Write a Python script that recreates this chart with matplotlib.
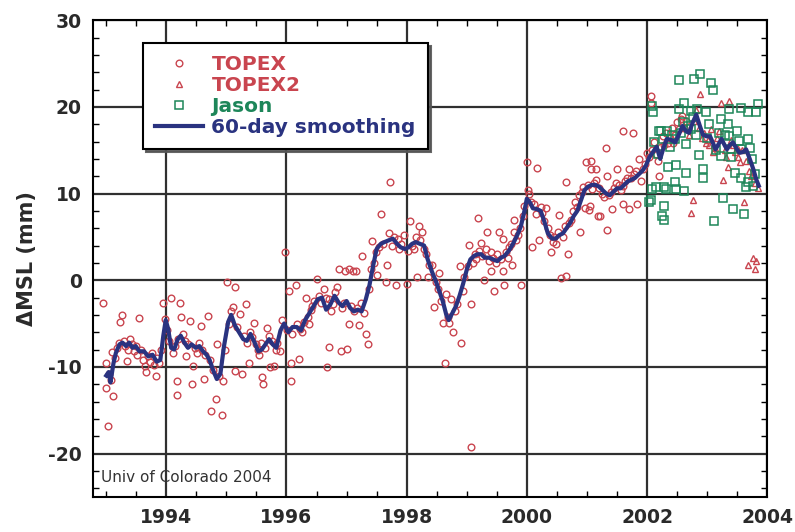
import matplotlib
matplotlib.use("Agg")
import matplotlib.pyplot as plt
from matplotlib.ticker import MultipleLocator

plt.rcParams['font.family'] = ['DejaVu Sans']
plt.rcParams['axes.unicode_minus'] = False

# TOPEX 10-day cycle values (year, mm)
topex_t = [1992.95, 1992.99, 1993.00, 1993.03, 1993.05, 1993.08, 1993.10, 1993.12, 1993.15, 1993.18,
           1993.21, 1993.23, 1993.27, 1993.29, 1993.32, 1993.34, 1993.37, 1993.40, 1993.43, 1993.46,
           1993.49, 1993.52, 1993.55, 1993.58, 1993.61, 1993.65, 1993.67, 1993.70, 1993.73, 1993.76,
           1993.79, 1993.82, 1993.85, 1993.88, 1993.91, 1993.95, 1993.98, 1994.01, 1994.04, 1994.08,
           1994.11, 1994.14, 1994.17, 1994.17, 1994.20, 1994.22, 1994.25, 1994.28, 1994.31, 1994.33,
           1994.36, 1994.40, 1994.42, 1994.45, 1994.48, 1994.51, 1994.54, 1994.57, 1994.60, 1994.62,
           1994.65, 1994.70, 1994.72, 1994.75, 1994.78, 1994.82, 1994.85, 1994.88, 1994.92, 1994.94,
           1994.97, 1995.01, 1995.04, 1995.08, 1995.11, 1995.15, 1995.15, 1995.18, 1995.23, 1995.26,
           1995.29, 1995.32, 1995.35, 1995.37, 1995.40, 1995.43, 1995.46, 1995.49, 1995.52, 1995.55,
           1995.57, 1995.59, 1995.61, 1995.65, 1995.68, 1995.71, 1995.73, 1995.76, 1995.79, 1995.82,
           1995.85, 1995.90, 1995.93, 1995.98, 1996.01, 1996.04, 1996.07, 1996.08, 1996.10, 1996.15,
           1996.17, 1996.20, 1996.23, 1996.26, 1996.29, 1996.32, 1996.35, 1996.37, 1996.40, 1996.43,
           1996.46, 1996.51, 1996.54, 1996.57, 1996.62, 1996.65, 1996.68, 1996.71, 1996.71, 1996.74,
           1996.78, 1996.81, 1996.84, 1996.87, 1996.90, 1996.93, 1996.96, 1996.98, 1997.01, 1997.04,
           1997.04, 1997.07, 1997.10, 1997.12, 1997.15, 1997.18, 1997.21, 1997.24, 1997.26, 1997.29,
           1997.32, 1997.35, 1997.38, 1997.40, 1997.43, 1997.46, 1997.49, 1997.51, 1997.54, 1997.58,
           1997.61, 1997.65, 1997.68, 1997.71, 1997.73, 1997.76, 1997.79, 1997.82, 1997.85, 1997.88,
           1997.91, 1997.96, 1998.01, 1998.03, 1998.06, 1998.09, 1998.12, 1998.15, 1998.18, 1998.20,
           1998.23, 1998.26, 1998.29, 1998.32, 1998.35, 1998.38, 1998.43, 1998.46, 1998.49, 1998.52,
           1998.54, 1998.57, 1998.60, 1998.63, 1998.65, 1998.68, 1998.71, 1998.74, 1998.77, 1998.80,
           1998.84, 1998.88, 1998.90, 1998.93, 1998.96, 1999.02, 1999.04, 1999.07, 1999.07, 1999.10,
           1999.13, 1999.16, 1999.18, 1999.21, 1999.23, 1999.26, 1999.29, 1999.32, 1999.34, 1999.37,
           1999.40, 1999.40, 1999.43, 1999.46, 1999.49, 1999.51, 1999.54, 1999.57, 1999.60, 1999.60,
           1999.62, 1999.65, 1999.68, 1999.71, 1999.74, 1999.76, 1999.79, 1999.79, 1999.82, 1999.85,
           1999.88, 1999.90, 1999.93, 1999.96, 2000.00, 2000.02, 2000.04, 2000.07, 2000.09, 2000.12,
           2000.15, 2000.17, 2000.20, 2000.23, 2000.26, 2000.29, 2000.32, 2000.35, 2000.38, 2000.40,
           2000.43, 2000.46, 2000.49, 2000.52, 2000.54, 2000.57, 2000.60, 2000.63, 2000.66, 2000.66,
           2000.68, 2000.71, 2000.74, 2000.77, 2000.80, 2000.83, 2000.86, 2000.88, 2000.91, 2000.94,
           2000.96, 2000.98, 2001.02, 2001.04, 2001.05, 2001.07, 2001.07, 2001.09, 2001.12, 2001.15,
           2001.15, 2001.18, 2001.20, 2001.22, 2001.25, 2001.28, 2001.32, 2001.34, 2001.34, 2001.37,
           2001.40, 2001.42, 2001.45, 2001.48, 2001.50, 2001.53, 2001.56, 2001.60, 2001.60, 2001.60,
           2001.63, 2001.66, 2001.70, 2001.70, 2001.73, 2001.76, 2001.79, 2001.82, 2001.84, 2001.87,
           2001.90, 2001.93, 2001.96, 2002.00, 2002.03, 2002.06, 2002.06, 2002.09, 2002.12, 2002.15,
           2002.18, 2002.20, 2002.23, 2002.26, 2002.29, 2002.32, 2002.35, 2002.38, 2002.41, 2002.44,
           2002.47, 2002.50, 2002.53, 2002.56, 2002.59, 2002.62, 2002.65]
topex_v = [-2.6, -9.6, -12.4, -16.8, -10.8, -11.5, -8.3, -13.4, -9.0, -7.8,
           -7.2, -4.8, -4.0, -7.0, -7.6, -9.3, -8.0, -6.8, -7.4, -8.2,
           -7.6, -8.6, -4.4, -8.0, -9.2, -9.9, -10.6, -8.8, -9.4, -8.4,
           -9.8, -11.1, -9.0, -9.6, -8.0, -2.6, -4.5, -5.8, -7.0, -2.0,
           -8.4, -7.6, -11.6, -13.2, -6.8, -2.6, -4.2, -6.2, -7.0, -8.8,
           -7.4, -4.7, -12.0, -9.9, -7.8, -8.4, -7.2, -5.3, -8.0, -11.4,
           -8.6, -4.1, -9.2, -15.1, -10.4, -13.7, -7.4, -11.0, -15.5, -11.6,
           -8.0, -0.2, -5.0, -3.6, -3.1, -0.8, -10.5, -5.4, -3.9, -10.8,
           -6.4, -2.8, -7.2, -9.5, -6.0, -6.6, -4.9, -7.4, -8.0, -8.6,
           -7.3, -11.2, -12.0, -7.8, -5.5, -6.4, -10.0, -7.0, -9.9, -8.0,
           -7.2, -8.2, -4.6, 3.2, -5.8, -1.2, -11.6, -9.5, -6.2, -0.6,
           -5.0, -9.1, -5.6, -6.0, -4.8, -2.0, -4.2, -5.0, -3.4, -3.0,
           -2.4, 0.1, -1.8, -2.6, -1.0, -2.0, -10.0, -2.2, -7.7, -3.6,
           -2.8, -1.4, -0.8, 1.3, -8.2, -3.2, -2.6, 1.1, -7.9, -5.0,
           1.3, -3.0, 1.1, -3.6, 1.1, -3.2, -5.2, -2.6, 2.8, -3.8,
           -6.2, -7.4, -1.0, 1.3, 4.5, 2.0, 3.2, 0.6, 3.8, 7.6,
           4.2, -0.2, 1.7, 5.4, 11.3, 4.0, 5.0, -0.6, 4.8, 3.6,
           4.2, 5.2, -0.4, 3.4, 6.8, 4.0, 3.6, 5.0, 0.4, 6.2,
           4.6, 5.6, 3.6, 3.0, 0.4, 1.8, 1.7, -3.1, -0.2, -1.0,
           0.8, -2.4, -4.9, -9.5, -1.6, -4.2, -4.9, -2.2, -6.0, -3.6,
           -2.8, 1.6, -7.2, -1.2, 0.4, 1.6, 4.1, -2.8, -19.2, 2.0,
           3.0, 2.4, 7.2, 3.4, 4.3, 2.8, 0.0, 3.6, 5.6, 2.2,
           3.2, 1.1, 2.6, -1.2, 2.0, 3.0, 5.6, 2.4, 4.7, 1.1,
           -0.6, 3.2, 2.6, 3.8, 4.2, 1.7, 7.0, 5.6, 4.6, 5.2,
           6.0, -0.6, 7.4, 8.6, 13.6, 10.4, 10.0, 9.0, 3.8, 8.8,
           7.6, 12.9, 4.6, 8.5, 7.8, 6.8, 8.3, 6.0, 5.2, 3.2,
           4.4, 5.0, 4.2, 5.6, 7.5, 0.3, 5.0, 6.2, 11.3, 0.5,
           3.0, 6.6, 7.0, 8.0, 9.0, 8.4, 9.8, 5.6, 10.2, 10.8,
           8.3, 13.6, 11.0, 8.1, 8.6, 12.8, 13.7, 10.5, 11.2, 11.6,
           12.8, 7.4, 10.6, 7.4, 10.0, 9.6, 15.3, 12.0, 5.8, 9.8,
           10.2, 8.2, 10.6, 11.2, 12.8, 11.0, 10.4, 17.2, 8.8, 10.9,
           11.4, 11.8, 12.8, 8.2, 11.8, 17.0, 12.2, 12.6, 8.8, 14.0,
           11.4, 12.8, 13.4, 14.7, 14.2, 20.5, 21.3, 15.0, 16.0, 14.6,
           13.8, 12.0, 15.4, 16.6, 15.6, 17.0, 15.8, 16.4, 17.6, 15.8,
           16.8, 18.2, 17.4, 18.6, 19.0, 17.6, 18.4]

# TOPEX2 (interleaved orbit)
topex2_t = [2002.70, 2002.73, 2002.76, 2002.79, 2002.82, 2002.86, 2002.89, 2002.92, 2002.95, 2002.98,
            2003.01, 2003.04, 2003.07, 2003.10, 2003.13, 2003.16, 2003.20, 2003.23, 2003.26, 2003.29,
            2003.32, 2003.34, 2003.37, 2003.40, 2003.43, 2003.46, 2003.49, 2003.52, 2003.55, 2003.58,
            2003.62, 2003.65, 2003.68, 2003.70, 2003.73, 2003.76, 2003.79, 2003.80, 2003.82, 2003.84]
topex2_v = [16.8, 7.8, 9.2, 18.4, 19.6, 17.6, 21.5, 16.4, 17.0, 15.8,
            16.2, 15.6, 17.4, 14.8, 15.2, 16.4, 17.2, 20.5, 11.6, 15.0,
            14.2, 13.1, 20.7, 16.2, 15.6, 14.8, 15.4, 14.2, 13.6, 15.0,
            9.0, 13.8, 1.8, 12.6, 12.0, 2.6, 1.3, 11.2, 2.2, 10.6]

# Jason-1
jason_t = [2002.03, 2002.07, 2002.08, 2002.09, 2002.10, 2002.12, 2002.15, 2002.18, 2002.20, 2002.24,
           2002.25, 2002.26, 2002.28, 2002.29, 2002.29, 2002.31, 2002.34, 2002.35, 2002.38, 2002.42,
           2002.46, 2002.46, 2002.48, 2002.49, 2002.53, 2002.54, 2002.57, 2002.60, 2002.62, 2002.62,
           2002.65, 2002.65, 2002.68, 2002.73, 2002.73, 2002.76, 2002.79, 2002.82, 2002.84, 2002.87,
           2002.89, 2002.93, 2002.93, 2002.98, 2003.00, 2003.04, 2003.07, 2003.10, 2003.12, 2003.15,
           2003.19, 2003.23, 2003.23, 2003.26, 2003.30, 2003.34, 2003.37, 2003.37, 2003.40, 2003.40,
           2003.43, 2003.46, 2003.50, 2003.53, 2003.57, 2003.57, 2003.57, 2003.62, 2003.65, 2003.68,
           2003.68, 2003.68, 2003.71, 2003.74, 2003.76, 2003.80, 2003.82, 2003.84]
jason_v = [9.0, 9.2, 10.5, 20.1, 19.4, 16.0, 10.7, 14.6, 17.2, 17.2,
           7.4, 16.3, 10.7, 8.6, 7.0, 10.5, 17.2, 13.1, 15.4, 16.8,
           16.3, 11.3, 10.5, 13.3, 23.1, 19.7, 17.0, 18.2, 20.5, 10.3,
           15.7, 12.4, 17.8, 19.5, 17.4, 18.8, 23.2, 16.8, 19.7, 14.5,
           23.8, 12.8, 11.8, 19.4, 16.4, 18.0, 22.8, 22.0, 6.8, 15.0,
           17.0, 18.6, 14.3, 9.5, 16.8, 18.0, 19.7, 16.6, 15.1, 14.2,
           8.2, 12.4, 17.2, 16.1, 19.9, 15.1, 11.8, 7.6, 10.7, 19.4,
           16.3, 11.3, 15.3, 14.0, 10.9, 12.2, 19.4, 20.3]

# 60-day smoothing
smooth_t = [1993.00, 1993.04, 1993.07, 1993.12, 1993.16, 1993.22, 1993.27, 1993.33, 1993.38, 1993.44,
            1993.49, 1993.55, 1993.63, 1993.70, 1993.77, 1993.84, 1993.90, 1993.95, 1993.99, 1994.03,
            1994.08, 1994.13, 1994.19, 1994.24, 1994.30, 1994.36, 1994.42, 1994.49, 1994.55, 1994.61,
            1994.67, 1994.72, 1994.78, 1994.84, 1994.90, 1994.96, 1995.03, 1995.08, 1995.14, 1995.21,
            1995.28, 1995.34, 1995.40, 1995.47, 1995.53, 1995.59, 1995.65, 1995.71, 1995.77, 1995.83,
            1995.90, 1995.96, 1996.03, 1996.10, 1996.17, 1996.24, 1996.31, 1996.38, 1996.45, 1996.52,
            1996.59, 1996.66, 1996.73, 1996.80, 1996.87, 1996.93, 1997.00, 1997.06, 1997.12, 1997.19,
            1997.25, 1997.32, 1997.38, 1997.44, 1997.50, 1997.57, 1997.63, 1997.70, 1997.77, 1997.84,
            1997.90, 1997.97, 1998.03, 1998.09, 1998.15, 1998.22, 1998.29, 1998.35, 1998.42, 1998.48,
            1998.54, 1998.60, 1998.66, 1998.70, 1998.76, 1998.82, 1998.88, 1998.94, 1999.00, 1999.06,
            1999.12, 1999.18, 1999.24, 1999.30, 1999.37, 1999.44, 1999.51, 1999.57, 1999.63, 1999.70,
            1999.77, 1999.84, 1999.90, 1999.96, 2000.00, 2000.05, 2000.10, 2000.17, 2000.23, 2000.29,
            2000.35, 2000.42, 2000.48, 2000.54, 2000.60, 2000.66, 2000.72, 2000.78, 2000.84, 2000.90,
            2000.96, 2001.02, 2001.08, 2001.14, 2001.20, 2001.26, 2001.32, 2001.38, 2001.44, 2001.50,
            2001.56, 2001.62, 2001.68, 2001.74, 2001.80, 2001.86, 2001.92, 2001.98, 2002.04, 2002.10,
            2002.16, 2002.22, 2002.28, 2002.33, 2002.40, 2002.47, 2002.53, 2002.59, 2002.65, 2002.70,
            2002.76, 2002.82, 2002.88, 2002.93, 2002.99, 2003.05, 2003.10, 2003.14, 2003.20, 2003.24,
            2003.29, 2003.33, 2003.38, 2003.43, 2003.49, 2003.54, 2003.60, 2003.65, 2003.71, 2003.77,
            2003.82, 2003.86]
smooth_v = [-11.0, -10.6, -11.8, -9.6, -8.4, -7.4, -7.2, -7.6, -7.2, -7.8,
            -7.6, -8.2, -8.2, -8.8, -8.6, -9.4, -9.2, -6.4, -4.6, -5.6,
            -7.8, -8.0, -6.8, -6.4, -7.2, -7.8, -7.4, -7.8, -7.6, -8.2,
            -8.6, -9.2, -10.4, -11.4, -10.8, -7.6, -4.8, -4.0, -5.2, -6.0,
            -6.8, -7.0, -6.2, -7.2, -8.2, -8.0, -7.4, -6.8, -7.4, -7.8,
            -5.8, -5.0, -6.0, -5.4, -5.4, -5.8, -4.6, -3.8, -3.0, -2.2,
            -2.0, -3.4, -2.8, -1.8, -2.6, -3.0, -2.4, -3.2, -3.6, -3.4,
            -3.6, -2.2, -0.6, 1.6, 3.6, 4.2, 4.4, 4.6, 4.8, 4.2,
            3.8, 3.6, 3.8, 4.2, 4.4, 4.2, 4.0, 2.4, 1.0, 0.0,
            -1.2, -2.4, -4.0, -4.6, -3.8, -3.0, -1.8, -0.4, 1.2, 2.4,
            2.8, 3.0, 3.0, 2.6, 2.6, 2.4, 2.2, 2.6, 2.8, 3.4,
            4.2, 5.2, 6.2, 8.0, 9.4, 9.0, 8.3, 8.2, 8.0, 6.8,
            5.4, 4.8, 4.8, 5.2, 5.4, 6.0, 6.6, 7.4, 8.0, 9.2,
            10.4, 10.8, 11.0, 11.0, 10.8, 10.4, 10.0, 9.8, 10.2, 10.6,
            10.6, 11.0, 11.4, 11.6, 11.8, 12.2, 12.6, 13.2, 14.2, 14.8,
            15.4, 14.0, 15.4, 16.3, 16.2, 15.9, 16.8, 17.8, 17.2, 17.0,
            18.2, 19.1, 17.8, 16.8, 16.6, 16.6, 15.8, 15.1, 15.8, 16.3,
            15.6, 15.1, 15.6, 15.9, 15.2, 14.7, 14.8, 15.1, 14.0, 12.8,
            11.6, 10.9]

red = '#c9454f'
green = '#1d8659'
navy = '#2a3380'
ink = '#2a2a2a'

fig = plt.figure(figsize=(7.95, 5.32), dpi=100)
ax = fig.add_axes([0.117, 0.066, 0.848, 0.896])

ax.plot(topex_t, topex_v, 'o', ms=4.8, mfc='none', mec=red, mew=1.0, label='TOPEX', zorder=3)
ax.plot(topex2_t, topex2_v, '^', ms=5, mfc='none', mec=red, mew=1.0, label='TOPEX2', zorder=3)
ax.plot(jason_t, jason_v, 's', ms=5.6, mfc='none', mec=green, mew=1.1, label='Jason', zorder=3)
ax.plot(smooth_t, smooth_v, '-', color=navy, lw=3, label='60-day smoothing', zorder=4)

ax.set_xlim(1992.78, 2004)
ax.set_ylim(-25, 30)
ax.xaxis.set_major_locator(MultipleLocator(2))
ax.xaxis.set_minor_locator(MultipleLocator(0.5))
ax.yaxis.set_major_locator(MultipleLocator(10))
ax.yaxis.set_minor_locator(MultipleLocator(2))
ax.grid(True, which='major', color='#303030', lw=1.6, zorder=1)
ax.set_axisbelow(True)
ax.tick_params(which='both', direction='in', top=True, right=True)
ax.tick_params(which='major', length=0, labelsize=13.5, pad=8, labelcolor=ink)
ax.tick_params(which='minor', length=4, width=1)
for lab in ax.get_xticklabels() + ax.get_yticklabels():
    lab.set_fontweight('bold')
for s in ax.spines.values():
    s.set_linewidth(1.5)

ax.set_ylabel('\u0394MSL (mm)', fontsize=15, fontweight='bold', color=ink, labelpad=8)

ax.text(0.012, 0.04, 'Univ of Colorado 2004', transform=ax.transAxes, fontsize=11,
        color='#333333', va='center', ha='left')

leg = ax.legend(loc='upper left', bbox_to_anchor=(0.074, 0.952),
                prop={'weight': 'bold', 'size': 14.5}, frameon=True, fancybox=False,
                shadow={'color': '#555555', 'alpha': 0.9}, edgecolor='black', framealpha=1,
                handlelength=2.4, handletextpad=0.4, labelspacing=0.1, borderpad=0.6,
                borderaxespad=0)
leg.get_frame().set_linewidth(1.5)
for txt, c in zip(leg.get_texts(), [red, red, green, navy]):
    txt.set_color(c)
leg.set_zorder(10)

fig.savefig('out.png', dpi=100)
